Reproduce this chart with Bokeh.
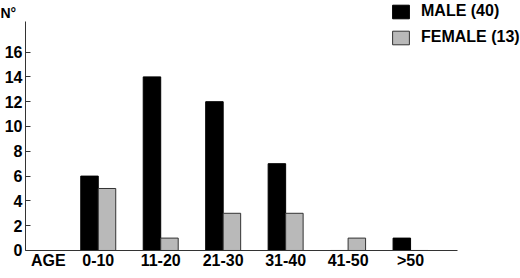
from bokeh.plotting import figure
from bokeh.models import (Range1d, FixedTicker, Legend, LegendItem,
                          ColumnDataSource, LinearAxis, Grid)
from bokeh.core.properties import value
from bokeh.transform import dodge
from bokeh.embed import file_html
from bokeh.resources import INLINE

# ---- data ----
age_groups = ["0-10", "11-20", "21-30", "31-40", "41-50", ">50"]
male = [6, 14, 12, 7, 0, 1]
female = [5, 1, 3, 3, 1, 0]
male_label = "MALE (40)"
female_label = "FEMALE (13)"
y_ticks = [0, 2, 4, 6, 8, 10, 12, 14, 16]
x_axis_title = "AGE"
y_axis_title = "N°"

positions = list(range(1, len(age_groups) + 1))
src = ColumnDataSource(dict(x=positions, male=male, female=female))

FONT = "Liberation Sans"
BAR_W = 0.28
X0, X1 = -0.165, 6.75     # extent of the drawn x axis
YMAX = 18.5               # extent of the drawn y axis

p = figure(width=520, height=278, output_backend="svg", toolbar_location=None,
           x_range=Range1d(-0.565, 7.76), y_range=Range1d(-2.258, 20.16),
           x_axis_location=None, y_axis_location=None,
           min_border=0)
p.outline_line_color = None
p.background_fill_color = "white"
p.border_fill_color = "white"
# remove any grid that figure() created
p.center = [r for r in p.center if not isinstance(r, Grid)]

r_m = p.vbar(x=dodge("x", -BAR_W / 2, range=p.x_range), top="male", width=BAR_W,
             source=src, fill_color="black", line_color="black", line_width=1)
r_f = p.vbar(x=dodge("x", BAR_W / 2, range=p.x_range), top="female", width=BAR_W,
             source=src, fill_color="#b9b9b9", line_color="#333333", line_width=1)

# y axis (fixed inside the frame)
ya = LinearAxis(fixed_location=X0, bounds=(0, YMAX))
ya.ticker = FixedTicker(ticks=y_ticks)
ya.axis_line_color = "#333333"
ya.major_tick_line_color = "#333333"
ya.major_tick_in = 5
ya.major_tick_out = 0
ya.minor_tick_line_color = None
ya.major_label_standoff = 3
ya.major_label_text_font = FONT
ya.major_label_text_font_style = "bold"
ya.major_label_text_font_size = "16px"
ya.major_label_text_color = "black"
p.add_layout(ya, "left")

# x axis (fixed inside the frame)
xa = LinearAxis(fixed_location=0, bounds=(X0, X1))
tick_pos = [0.2] + positions
xa.ticker = FixedTicker(ticks=tick_pos)
xa.major_label_overrides = {t: lab for t, lab in zip(tick_pos, [x_axis_title] + age_groups)}
xa.axis_line_color = "#333333"
xa.major_tick_line_color = None
xa.major_tick_in = 0
xa.major_tick_out = 0
xa.minor_tick_line_color = None
xa.major_label_standoff = 2
xa.major_label_text_font = FONT
xa.major_label_text_font_style = "bold"
xa.major_label_text_font_size = "16px"
xa.major_label_text_color = "black"
p.add_layout(xa, "below")

# N° label
p.text(x=[X0], y=[YMAX], text=[y_axis_title], x_offset=-25, y_offset=-8,
       text_font=value(FONT), text_font_style="bold", text_font_size="14px",
       text_color="black", text_baseline="alphabetic", text_align="left")

legend = Legend(items=[LegendItem(label=male_label, renderers=[r_m]),
                       LegendItem(label=female_label, renderers=[r_f])],
                location=(390, 232), padding=0, margin=0, spacing=8,
                glyph_width=21, glyph_height=17, label_height=17,
                label_standoff=10, border_line_color=None,
                background_fill_alpha=0,
                label_text_font=FONT, label_text_font_style="bold",
                label_text_font_size="16px", label_text_color="black")
p.add_layout(legend, "center")

open("out.html", "w").write(file_html(p, INLINE))
